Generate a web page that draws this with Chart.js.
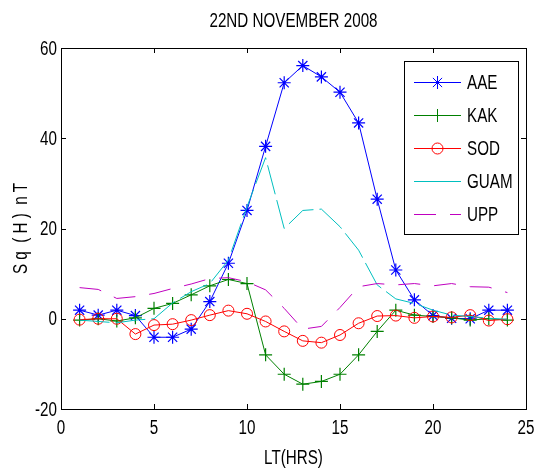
<!DOCTYPE html>
<html lang="en">
<head>
    <meta charset="UTF-8">
    <title>Sq(H) 22nd November 2008</title>
    <script src="https://cdn.jsdelivr.net/npm/chart.js"></script>
    <style>
        html, body { margin: 0; padding: 0; background: #fff; }
        #wrap { width: 539px; height: 472px; }
    </style>
</head>
<body>
    <div id="wrap"><canvas id="sqChart" width="539" height="472"></canvas></div>

    <script>
        // Local time (hours)
        const hours = [1, 2, 3, 4, 5, 6, 7, 8, 9, 10, 11, 12, 13, 14, 15, 16, 17, 18, 19, 20, 21, 22, 23, 24];

        // Sq(H) in nT for each station
        const aae  = [1.9, 0.8, 1.9, 0.7, -4.1, -4.1, -2.3, 3.8, 12.3, 24, 38.2, 52.3, 56.1, 53.6, 50.2, 43.4, 26.5, 10.8, 4.2, 0.7, 0.1, 0, 1.9, 1.9];
        const kak  = [-0.3, 0, -0.5, 0.2, 2.3, 3.4, 5.3, 7.3, 8.7, 7.8, -8, -12.3, -14.5, -13.9, -12.3, -8, -2.8, 1.9, 0.8, 0.5, 0.2, -0.3, 0, -0.3];
        const sod  = [-0.2, 0, 0, -3.4, -1.4, -1.2, -0.3, 0.8, 1.8, 1.1, -0.6, -2.8, -4.9, -5.3, -3.6, -1, 0.6, 0.7, 0.2, 0.5, 0.3, 0.8, -0.4, -0.1];
        const guam = [-0.3, -0.6, -0.9, -0.3, 0, 3.5, 6, 7.8, 13, 24.8, 35.7, 20, 24, 24.3, 20.4, 15.2, 7.5, 4.4, 3.4, 1.9, 0.8, 0.5, 0.1, -0.1];
        const upp  = [6.9, 6.5, 4.5, 4.9, 5.6, 6.7, 7.7, 8.9, 9.1, 8.2, 6.4, 2.3, -2.3, -1.7, 2.5, 7.1, 7.8, 7.5, 7.8, 7.3, 7.8, 7.1, 7, 5.8];

        const stationNames = ['AAE', 'KAK', 'SOD', 'GUAM', 'UPP'];
        const xTicks = [0, 5, 10, 15, 20, 25];
        const yTicks = [-20, 0, 20, 40, 60];

        const titleText = '22ND NOVEMBER 2008';
        const xLabel = 'LT(HRS)';
        const yLabel = 'S q  ( H )  n T';

        const FONT = "'Liberation Sans', Arial, sans-serif";
        const SQUEEZE = 0.76;   // the original text is horizontally condensed

        const toPoints = vals => hours.map((h, i) => ({ x: h, y: vals[i] }));

        // condensed text helper
        function narrowText(ctx, txt, x, y, align, rot) {
            ctx.save();
            ctx.translate(x, y);
            if (rot) ctx.rotate(rot);
            ctx.scale(SQUEEZE, 1);
            ctx.textAlign = align;
            ctx.fillText(txt, 0, 0);
            ctx.restore();
        }

        // frame, inward ticks, labels and legend, MATLAB style
        const matlabFrame = {
            id: 'matlabFrame',
            afterDraw(chart) {
                const ctx = chart.ctx;
                const a = chart.chartArea;
                const xs = chart.scales.x, ys = chart.scales.y;
                ctx.save();
                ctx.strokeStyle = '#000';
                ctx.lineWidth = 1;
                ctx.strokeRect(Math.round(a.left) + 0.5, Math.round(a.top) + 0.5,
                    Math.round(a.right - a.left), Math.round(a.bottom - a.top));

                const tl = 5;
                ctx.beginPath();
                xTicks.forEach(v => {
                    const px = Math.round(xs.getPixelForValue(v)) + 0.5;
                    ctx.moveTo(px, a.bottom); ctx.lineTo(px, a.bottom - tl);
                    ctx.moveTo(px, a.top); ctx.lineTo(px, a.top + tl);
                });
                yTicks.forEach(v => {
                    const py = Math.round(ys.getPixelForValue(v)) + 0.5;
                    ctx.moveTo(a.left, py); ctx.lineTo(a.left + tl, py);
                    ctx.moveTo(a.right, py); ctx.lineTo(a.right - tl, py);
                });
                ctx.stroke();

                ctx.fillStyle = '#000';
                ctx.font = '20px ' + FONT;
                ctx.textBaseline = 'middle';

                // tick labels
                xTicks.forEach(v => narrowText(ctx, String(v), xs.getPixelForValue(v), 428, 'center'));
                yTicks.forEach(v => narrowText(ctx, String(v), a.left - 4, ys.getPixelForValue(v) + 1, 'right'));

                // title and axis labels
                const cx = (a.left + a.right) / 2;
                narrowText(ctx, titleText, cx, 21, 'center');
                narrowText(ctx, xLabel, cx, 458, 'center');
                narrowText(ctx, yLabel, 21, (a.top + a.bottom) / 2, 'center', -Math.PI / 2);

                // legend box
                const lx = 404.5, ly = 61.5, lw = 114, lh = 173;
                ctx.fillStyle = '#fff';
                ctx.fillRect(lx, ly, lw, lh);
                ctx.strokeStyle = '#000';
                ctx.strokeRect(lx, ly, lw, lh);
                chart.data.datasets.forEach((ds, i) => {
                    const y = 82 + i * 33;
                    ctx.strokeStyle = ds.borderColor;
                    ctx.lineWidth = 1;
                    ctx.setLineDash(ds.label === 'UPP' ? ds.borderDash : []);
                    ctx.beginPath();
                    ctx.moveTo(414, y + 0.5); ctx.lineTo(461, y + 0.5);
                    ctx.stroke();
                    ctx.setLineDash([]);
                    if (ds.pointStyle && ds.pointRadius > 0) {
                        ctx.fillStyle = 'rgba(0,0,0,0)';
                        ctx.strokeStyle = ds.borderColor;
                        Chart.helpers.drawPoint(ctx, {
                            pointStyle: ds.pointStyle,
                            radius: ds.pointRadius,
                            borderWidth: 1,
                            rotation: 0
                        }, 437.5, y + 0.5);
                    }
                    ctx.fillStyle = '#000';
                    narrowText(ctx, ds.label, 467, y + 1, 'left');
                });
                ctx.restore();
            }
        };

        const ctx = document.getElementById('sqChart').getContext('2d');
        const sqChart = new Chart(ctx, {
            type: 'line',
            data: {
                datasets: [
                    {
                        label: stationNames[0],
                        data: toPoints(aae),
                        borderColor: '#0000ff',
                        backgroundColor: 'transparent',
                        pointStyle: 'star',
                        pointRadius: 6.5,
                        pointBorderWidth: 1.2,
                        borderWidth: 1,
                        order: 5
                    },
                    {
                        label: stationNames[1],
                        data: toPoints(kak),
                        borderColor: '#008000',
                        backgroundColor: 'transparent',
                        pointStyle: 'cross',
                        pointRadius: 6.5,
                        pointBorderWidth: 1.2,
                        borderWidth: 1,
                        order: 4
                    },
                    {
                        label: stationNames[2],
                        data: toPoints(sod),
                        borderColor: '#ff0000',
                        backgroundColor: 'transparent',
                        pointStyle: 'circle',
                        pointRadius: 5.5,
                        pointBorderWidth: 1,
                        borderWidth: 1,
                        order: 3
                    },
                    {
                        label: stationNames[3],
                        data: toPoints(guam),
                        borderColor: '#00bfbf',
                        backgroundColor: 'transparent',
                        borderDash: [30, 6],
                        pointRadius: 0,
                        borderWidth: 1,
                        order: 2
                    },
                    {
                        label: stationNames[4],
                        data: toPoints(upp),
                        borderColor: '#bf00bf',
                        backgroundColor: 'transparent',
                        borderDash: [22, 14],
                        pointRadius: 0,
                        borderWidth: 1,
                        order: 1
                    }
                ]
            },
            options: {
                responsive: false,
                animation: false,
                devicePixelRatio: 1,
                layout: { padding: { top: 48, right: 13, left: 0, bottom: 0 } },
                plugins: {
                    legend: { display: false },
                    title: { display: false },
                    tooltip: { enabled: false }
                },
                elements: { line: { tension: 0, fill: false } },
                scales: {
                    x: {
                        type: 'linear',
                        min: 0,
                        max: 25,
                        afterFit: s => { s.height = 63; },
                        afterBuildTicks: s => { s.ticks = xTicks.map(v => ({ value: v })); },
                        grid: { display: false, drawTicks: false },
                        border: { display: false },
                        ticks: { display: false }
                    },
                    y: {
                        type: 'linear',
                        min: -20,
                        max: 60,
                        afterFit: s => { s.width = 61; },
                        afterBuildTicks: s => { s.ticks = yTicks.map(v => ({ value: v })); },
                        grid: { display: false, drawTicks: false },
                        border: { display: false },
                        ticks: { display: false }
                    }
                }
            },
            plugins: [matlabFrame]
        });
    </script>
</body>
</html>
